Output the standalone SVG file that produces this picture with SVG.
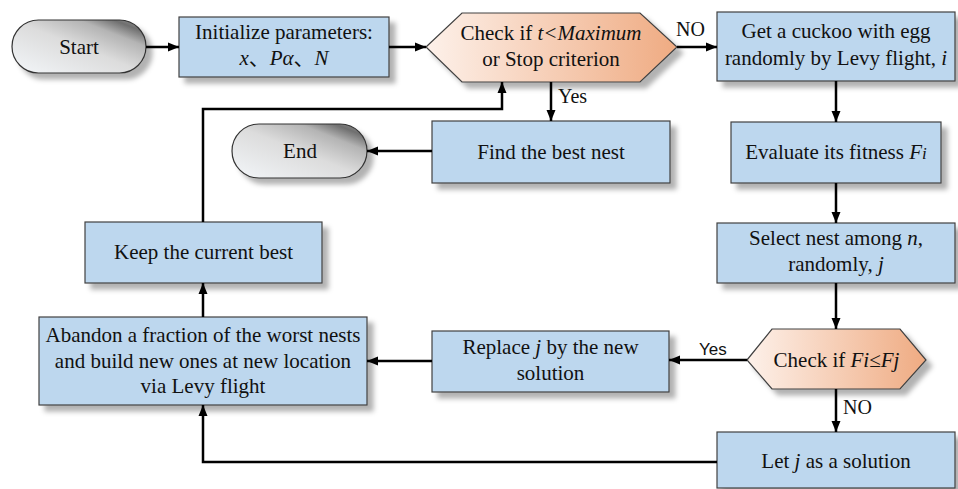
<svg xmlns="http://www.w3.org/2000/svg" width="958" height="489" viewBox="0 0 958 489">
<defs>
<linearGradient id="gTerm" x1="0" y1="1" x2="1" y2="0">
<stop offset="0" stop-color="#f3f6f9"/>
<stop offset="0.5" stop-color="#dcdcdc"/>
<stop offset="0.75" stop-color="#b4b4b4"/>
<stop offset="0.88" stop-color="#6f6f6f"/>
<stop offset="1" stop-color="#a0a0a0"/>
</linearGradient>
<linearGradient id="gHex" x1="0" y1="0" x2="1" y2="0">
<stop offset="0" stop-color="#fdf1ea"/>
<stop offset="1" stop-color="#efab82"/>
</linearGradient>
<filter id="sh" x="-10%" y="-20%" width="130%" height="150%">
<feDropShadow dx="6" dy="6" stdDeviation="2.5" flood-color="#000" flood-opacity="0.3"/>
</filter>
<marker id="ah" markerUnits="userSpaceOnUse" markerWidth="12" markerHeight="10" refX="11" refY="5" orient="auto">
<path d="M0,0.5 L11,5 L0,9.5 z" fill="#000"/>
</marker>
</defs>
<style>
.box{fill:#bdd7ee;stroke:#404040;stroke-width:1.2;filter:url(#sh)}
.term{fill:url(#gTerm);stroke:#333;stroke-width:1.2;filter:url(#sh)}
.hex{fill:url(#gHex);stroke:#404040;stroke-width:1.2;filter:url(#sh)}
.t{font-family:"Liberation Serif","Noto Sans CJK SC",serif;font-size:21px;fill:#111;text-anchor:middle}
.i{font-style:italic}
.lbl{font-family:"Liberation Serif",serif;font-size:20px;fill:#111}
.lbls{font-family:"Liberation Sans",sans-serif;font-size:17px;fill:#111}
.c{fill:none;stroke:#000;stroke-width:2.5;marker-end:url(#ah)}
</style>

<g id="start">
<rect class="term" x="12" y="20" width="134" height="53" rx="26.5"/>
<text class="t" x="79" y="54">Start</text>
</g>
<g id="init">
<rect class="box" x="179" y="17" width="210" height="60"/>
<text class="t" x="284" y="39">Initialize parameters:</text>
<text class="t" x="284" y="65"><tspan class="i">x</tspan>、<tspan class="i">Pα</tspan>、<tspan class="i">N</tspan></text>
</g>
<g id="check1">
<polygon class="hex" points="426,47 462,13 640,13 677,47 640,82 462,82"/>
<text class="t" x="551" y="40">Check if <tspan class="i">t&lt;Maximum</tspan></text>
<text class="t" x="551" y="66">or Stop criterion</text>
</g>
<g id="getcuckoo">
<rect class="box" x="717" y="12" width="238" height="69"/>
<text class="t" x="836" y="38">Get a cuckoo with egg</text>
<text class="t" x="836" y="65">randomly by Levy flight, <tspan class="i">i</tspan></text>
</g>
<g id="findbest">
<rect class="box" x="432" y="121" width="238" height="62"/>
<text class="t" x="551" y="159">Find the best nest</text>
</g>
<g id="end">
<rect class="term" x="232" y="124" width="135" height="54" rx="27"/>
<text class="t" x="300" y="158">End</text>
</g>
<g id="evaluate">
<rect class="box" x="731" y="122" width="210" height="61"/>
<text class="t" x="836" y="159">Evaluate its fitness <tspan class="i">F</tspan><tspan class="i" font-size="17">i</tspan></text>
</g>
<g id="select">
<rect class="box" x="717" y="223" width="238" height="60"/>
<text class="t" x="836" y="245">Select nest among <tspan class="i">n</tspan>,</text>
<text class="t" x="836" y="271">randomly, <tspan class="i">j</tspan></text>
</g>
<g id="keep">
<rect class="box" x="85" y="222" width="237" height="61"/>
<text class="t" x="203.5" y="259">Keep the current best</text>
</g>
<g id="check2">
<polygon class="hex" points="747,360 772,329 900,329 926,360 900,389 772,389"/>
<text class="t" x="836.5" y="367">Check if <tspan class="i">Fi</tspan>≤<tspan class="i">Fj</tspan></text>
</g>
<g id="replace">
<rect class="box" x="432" y="331" width="237" height="61"/>
<text class="t" x="550.5" y="354">Replace <tspan class="i">j</tspan> by the new</text>
<text class="t" x="550.5" y="380">solution</text>
</g>
<g id="abandon">
<rect class="box" x="39" y="317" width="328" height="88"/>
<text class="t" x="203" y="342">Abandon a fraction of the worst nests</text>
<text class="t" x="203" y="368">and build new ones at new location</text>
<text class="t" x="203" y="393">via Levy flight</text>
</g>
<g id="letj">
<rect class="box" x="717" y="432" width="238" height="56"/>
<text class="t" x="836" y="468">Let <tspan class="i">j</tspan> as a solution</text>
</g>

<g id="connectors">
<path class="c" d="M146,47 H179"/>
<path class="c" d="M389,47 H426"/>
<path class="c" d="M677,47 H717"/>
<path class="c" d="M551,82 V121"/>
<path class="c" d="M836,81 V122"/>
<path class="c" d="M836,183 V223"/>
<path class="c" d="M836,283 V329"/>
<path class="c" d="M747,360 H669"/>
<path class="c" d="M836,389 V432"/>
<path class="c" d="M717,462 H203 V405"/>
<path class="c" d="M432,361 H367"/>
<path class="c" d="M203,317 V283"/>
<path class="c" d="M203,222 V109 H502 V82"/>
<path class="c" d="M432,151 H367"/>
<text class="lbl" x="676" y="36">NO</text>
<text class="lbl" x="558" y="103">Yes</text>
<text class="lbls" x="699" y="355">Yes</text>
<text class="lbl" x="843" y="414">NO</text>
</g>
</svg>
